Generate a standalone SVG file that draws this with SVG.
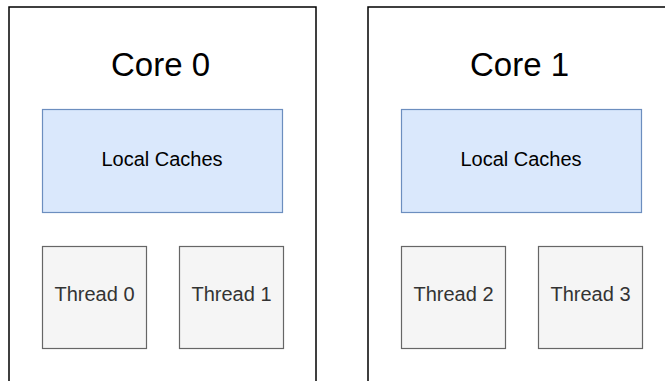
<svg xmlns="http://www.w3.org/2000/svg" width="665" height="381" viewBox="0 0 665 381">
<style>
.core{fill:#ffffff;stroke:#000000;stroke-width:1.5}
.cache{fill:#dae8fc;stroke:#6c8ebf;stroke-width:1.2}
.thread{fill:#f5f5f5;stroke:#666666;stroke-width:1.2}
text{font-family:"Liberation Sans",Arial,Helvetica,sans-serif;text-anchor:middle}
.ct{font-size:33px;fill:#000000}
.lt{font-size:20px;fill:#000000}
.tt{font-size:20px;fill:#333333}
</style>
<rect width="665" height="381" fill="#ffffff"/>
<g id="core0">
<rect class="core" x="9" y="7" width="307" height="400"/>
<text class="ct" x="160.5" y="75.5">Core 0</text>
</g>
<g id="core1">
<rect class="core" x="368" y="7" width="307" height="400"/>
<text class="ct" x="519.5" y="75.5">Core 1</text>
</g>
<g id="cache0">
<rect class="cache" x="42.5" y="109.5" width="240" height="103"/>
<text class="lt" x="162" y="166">Local Caches</text>
</g>
<g id="cache1">
<rect class="cache" x="401.5" y="109.5" width="240" height="103"/>
<text class="lt" x="521" y="166">Local Caches</text>
</g>
<g id="thread0">
<rect class="thread" x="42.5" y="246.5" width="104" height="102"/>
<text class="tt" x="94.5" y="301">Thread 0</text>
</g>
<g id="thread1">
<rect class="thread" x="179.5" y="246.5" width="104" height="102"/>
<text class="tt" x="231.5" y="301">Thread 1</text>
</g>
<g id="thread2">
<rect class="thread" x="401.5" y="246.5" width="104" height="102"/>
<text class="tt" x="453.5" y="301">Thread 2</text>
</g>
<g id="thread3">
<rect class="thread" x="538.5" y="246.5" width="104" height="102"/>
<text class="tt" x="590.5" y="301">Thread 3</text>
</g>
<g id="connectors"></g>
</svg>
